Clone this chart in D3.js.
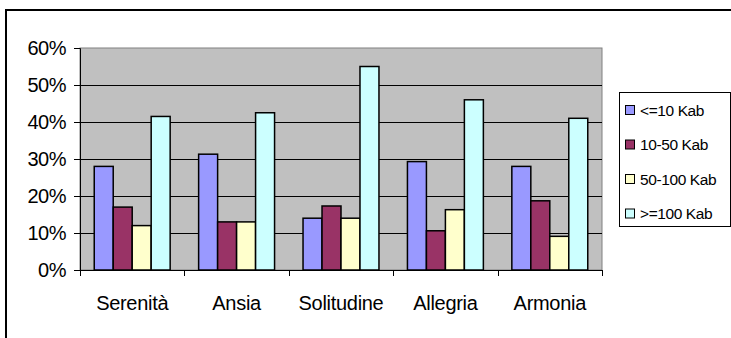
<!DOCTYPE html>
<html><head><meta charset="utf-8">
<script src="https://cdn.jsdelivr.net/npm/d3@7"></script>
<style>
html,body{margin:0;padding:0;background:#fff;}
svg{display:block;font-family:"Liberation Sans",Arial,sans-serif;}
</style></head>
<body>
<script>
const categories = ["Serenità","Ansia","Solitudine","Allegria","Armonia"];
const seriesNames = ["<=10 Kab","10-50 Kab","50-100 Kab",">=100 Kab"];
const s1 = [28, 31.3, 14, 29.3, 28];
const s2 = [17, 13, 17.3, 10.6, 18.7];
const s3 = [12, 13, 14, 16.3, 9.1];
const s4 = [41.5, 42.5, 55, 46, 41];
const yTicks = [0,10,20,30,40,50,60];
const colors = ["#9999FF","#993366","#FFFFCC","#CCFFFF"];
const series = [s1,s2,s3,s4];

const W=731,H=338;
const svg=d3.select("body").append("svg").attr("width",W).attr("height",H);

// outer chart border
svg.append("rect").attr("x",6).attr("y",10).attr("width",W+20).attr("height",H+20)
  .attr("fill","#fff").attr("stroke","#000").attr("stroke-width",2);

const L=80,R=602,T=48,B=270;
const x=d3.scaleBand().domain(categories).range([L,R]).padding(0);
const y=d3.scaleLinear().domain([0,60]).range([B,T]);

// plot area
svg.append("rect").attr("x",L).attr("y",T).attr("width",R-L).attr("height",B-T)
  .attr("fill","#C0C0C0").attr("stroke","#808080").attr("stroke-width",1);

// gridlines
svg.append("g").selectAll("line").data(yTicks.filter(d=>d>0&&d<60)).join("line")
  .attr("x1",L).attr("x2",R).attr("y1",d=>Math.round(y(d))+0.5).attr("y2",d=>Math.round(y(d))+0.5)
  .attr("stroke","#000").attr("stroke-width",1);

// bars
const bw=x.bandwidth()/5.5;
series.forEach((s,i)=>{
  svg.append("g").selectAll("rect").data(s).join("rect")
    .attr("x",(d,j)=>x(categories[j])+0.75*bw+i*bw)
    .attr("y",d=>y(d))
    .attr("width",bw)
    .attr("height",d=>B-y(d))
    .attr("fill",colors[i]).attr("stroke","#000").attr("stroke-width",1.5);
});

// y axis
const yAxis=d3.axisLeft(y).tickValues(yTicks).tickFormat(d=>d+"%").tickSize(6).tickPadding(8);
const gy=svg.append("g").attr("transform",`translate(${L},0)`).call(yAxis);
gy.select(".domain").attr("stroke","#000");
gy.selectAll(".tick line").attr("stroke","#000");
gy.selectAll("text").attr("font-size",20).attr("fill","#000").attr("font-family","Liberation Sans, Arial, sans-serif").attr("letter-spacing","-0.5");

// x axis
const gx=svg.append("g").attr("transform",`translate(0,${B})`);
gx.append("line").attr("x1",L).attr("x2",R).attr("y1",0.5).attr("y2",0.5).attr("stroke","#000");
const bounds=categories.map(c=>x(c)).concat([R]);
gx.selectAll("line.t").data(bounds).join("line").attr("class","t")
  .attr("x1",d=>Math.round(d)+0.5).attr("x2",d=>Math.round(d)+0.5).attr("y1",0).attr("y2",6).attr("stroke","#000");
gx.selectAll("text").data(categories).join("text")
  .attr("x",d=>x(d)+x.bandwidth()/2).attr("y",40)
  .attr("text-anchor","middle").attr("font-size",20).attr("letter-spacing","-0.3").attr("fill","#000")
  .text(d=>d);

// legend
const lg=svg.append("g");
lg.append("rect").attr("x",619.5).attr("y",92.5).attr("width",111).attr("height",134)
  .attr("fill","#fff").attr("stroke","#000").attr("stroke-width",1);
seriesNames.forEach((n,i)=>{
  const yy=105+i*34.5;
  lg.append("rect").attr("x",625.5).attr("y",yy+0.5).attr("width",9).attr("height",9)
    .attr("fill",colors[i]).attr("stroke","#000").attr("stroke-width",1);
  lg.append("text").attr("x",640).attr("y",yy+10.5).attr("font-size",15.5).attr("letter-spacing","-0.4")
    .attr("fill","#000").text(n);
});
</script>
</body></html>
